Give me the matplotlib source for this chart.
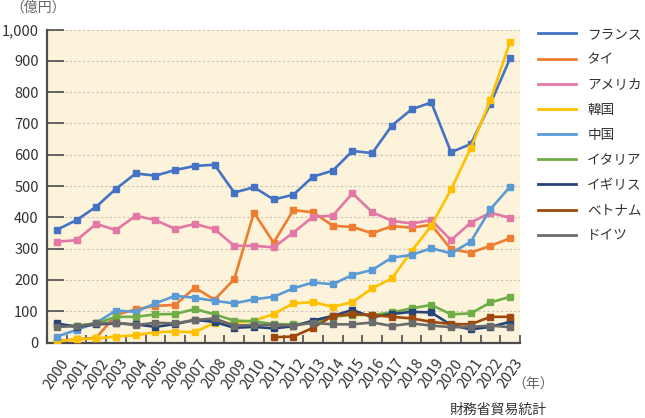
import matplotlib
matplotlib.use('Agg')
import matplotlib.pyplot as plt
from matplotlib.lines import Line2D

plt.rcParams['font.family'] = ['Noto Sans CJK JP', 'DejaVu Sans']

# data (億円)
years = list(range(2000, 2024))
france = [360, 391, 434, 491, 540, 533, 551, 564, 568, 479, 496, 457, 472, 530, 549, 612, 605,
          693, 745, 767, 608, 634, 763, 908]
thai = [5, 10, 15, 88, 106, 117, 120, 175, 137, 202, 415, 319, 423, 416, 373, 369, 349,
        372, 367, 376, 298, 287, 309, 333]
usa = [322, 327, 379, 359, 405, 391, 363, 379, 362, 309, 309, 304, 351, 402, 405, 477, 416,
       389, 380, 391, 327, 383, 415, 398]
korea = [3, 10, 13, 19, 23, 33, 35, 33, 63, 62, 70, 91, 125, 129, 114, 129, 173,
         205, 292, 373, 489, 621, 775, 961]
china = [19, 40, 63, 102, 98, 125, 149, 143, 133, 125, 138, 146, 173, 192, 186, 216, 232,
         271, 280, 301, 285, 322, 426, 498]
italy = [55, 54, 61, 82, 82, 90, 91, 107, 90, 70, 68, 59, 58, 62, 82, 88, 88,
         96, 109, 120, 90, 93, 128, 146]
uk = [61, 50, 58, 61, 58, 50, 59, 72, 66, 47, 50, 45, 52, 70, 85, 104, 81,
      91, 98, 96, 56, 42, 50, 66]
vietnam = [None] * 11 + [17, 19, 47, 85, 91, 88, 82, 77, 66, 59, 58, 82, 82]
germany = [50, 52, 61, 63, 56, 63, 61, 72, 77, 54, 56, 56, 54, 63, 58, 58, 64,
           53, 61, 54, 49, 50, 54, 49]

names = ['フランス', 'タイ', 'アメリカ', '韓国', '中国', 'イタリア', 'イギリス', 'ベトナム', 'ドイツ']
series = [france, thai, usa, korea, china, italy, uk, vietnam, germany]
colors = ['#4472C4', '#ED7D31', '#E377A5', '#FFC000', '#5B9BD5', '#70AD47', '#264478', '#9E480E', '#6B6B6B']

fig = plt.figure(figsize=(6.45, 4.18), dpi=100)
ax = fig.add_axes([47 / 645, 75.5 / 418, 473 / 645, 313 / 418])
ax.set_facecolor('#FDF3DA')

x = list(range(len(years)))
for vals, c in zip(series, colors):
    xs = [i for i, v in zip(x, vals) if v is not None]
    ys = [v for v in vals if v is not None]
    ax.plot(xs, ys, color=c, lw=1.9, marker='s', ms=5, mec=c, zorder=3)

ax.set_xlim(-0.5, 23.5)
ax.set_ylim(0, 1000)
ax.set_yticks(range(0, 1001, 100))
ax.set_yticklabels(['{:,}'.format(v) for v in range(0, 1001, 100)])
for v in range(100, 1001, 100):
    ax.axhline(v, color='#C9C2B6', lw=0.8, ls=(0, (2, 2)), zorder=1)

ax.set_xticks(x)
ax.set_xticklabels([str(y) for y in years], rotation=55, ha='center', va='top')
ax.set_xticks([i - 0.5 for i in range(len(years) + 1)], minor=True)
ax.tick_params(axis='x', which='major', length=0, pad=10, labelsize=10.5, labelcolor='#333333')
ax.tick_params(axis='x', which='minor', direction='in', length=6, width=1.2, color='#4d4d4d')
ax.tick_params(axis='y', direction='in', length=12, width=1.2, color='#4d4d4d', pad=6,
               labelsize=10.5, labelcolor='#333333')

for s in ['top', 'right']:
    ax.spines[s].set_visible(False)
for s in ['left', 'bottom']:
    ax.spines[s].set_color('#4d4d4d')
    ax.spines[s].set_linewidth(1.6)

fig.text(10 / 645, 1 - 8 / 418, '（億円）', fontsize=10, color='#666666', ha='left', va='center')
fig.text(533 / 645, 1 - 385 / 418, '（年）', fontsize=10, color='#666666', ha='center', va='center')
fig.text(498 / 645, 1 - 410 / 418, '財務省貿易統計', fontsize=10, color='#333333', ha='center', va='center')

handles = [Line2D([0], [0], color=c, lw=2) for c in colors]
fig.legend(handles, names, loc='upper left', bbox_to_anchor=(526 / 645, 1 - 15 / 418),
           frameon=False, fontsize=9.8, handlelength=2.8, handletextpad=0.8, labelspacing=0.82,
           labelcolor='#333333')

fig.savefig('out.png', dpi=100)
